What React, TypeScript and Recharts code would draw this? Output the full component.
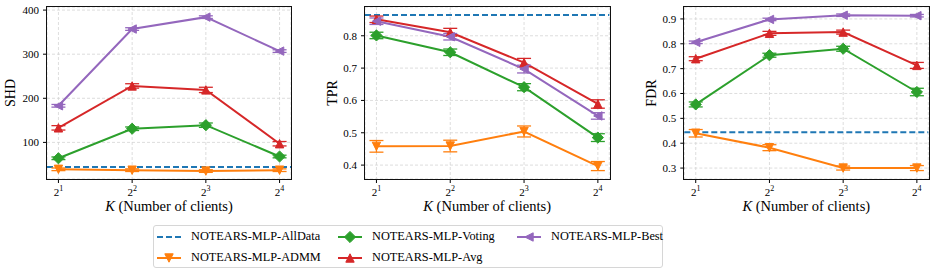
import React from 'react';
import { LineChart, Line, XAxis, YAxis, CartesianGrid, ReferenceLine, ErrorBar } from 'recharts';

const FONT = "'Liberation Serif', 'Times New Roman', serif";

// x positions are log2(K)
const kExponents = [1, 2, 3, 4];

const seriesNames = ['NOTEARS-MLP-AllData', 'NOTEARS-MLP-ADMM', 'NOTEARS-MLP-Voting', 'NOTEARS-MLP-Avg', 'NOTEARS-MLP-Best'];
const seriesKeys = ['allData', 'admm', 'voting', 'avg', 'best'];
const seriesColors = ['#1f77b4', '#ff7f0e', '#2ca02c', '#d62728', '#9467bd'];
const seriesMarkers = ['none', 'v', 'D', '^', '<'];

// SHD
const shdAllData = 44;
const shdAdmm = [39, 37, 35, 37];
const shdAdmmErr = [3, 3, 3, 3];
const shdVoting = [64, 131, 139, 68];
const shdVotingErr = [3, 4, 5, 3];
const shdAvg = [133, 228, 219, 97];
const shdAvgErr = [5, 5, 6, 5];
const shdBest = [183, 357, 384, 307];
const shdBestErr = [3, 3, 3, 3];
const shdTicks = [100, 200, 300, 400];

// TPR
const tprAllData = 0.864;
const tprAdmm = [0.458, 0.459, 0.504, 0.397];
const tprAdmmErr = [0.018, 0.018, 0.017, 0.014];
const tprVoting = [0.801, 0.749, 0.641, 0.485];
const tprVotingErr = [0.01, 0.01, 0.011, 0.012];
const tprAvg = [0.851, 0.811, 0.717, 0.589];
const tprAvgErr = [0.01, 0.012, 0.013, 0.013];
const tprBest = [0.845, 0.797, 0.697, 0.552];
const tprBestErr = [0.01, 0.01, 0.012, 0.01];
const tprTicks = [0.4, 0.5, 0.6, 0.7, 0.8];

// FDR
const fdrAllData = 0.444;
const fdrAdmm = [0.44, 0.382, 0.3, 0.3];
const fdrAdmmErr = [0.015, 0.012, 0.008, 0.01];
const fdrVoting = [0.556, 0.754, 0.78, 0.606];
const fdrVotingErr = [0.01, 0.008, 0.01, 0.015];
const fdrAvg = [0.74, 0.842, 0.847, 0.713];
const fdrAvgErr = [0.008, 0.008, 0.008, 0.012];
const fdrBest = [0.806, 0.898, 0.915, 0.913];
const fdrBestErr = [0.005, 0.005, 0.005, 0.005];
const fdrTicks = [0.3, 0.4, 0.5, 0.6, 0.7, 0.8, 0.9];

const X_DOMAIN: [number, number] = [0.845, 4.155];
const CHART_H = 220;
const M_TOP = 7;
const M_BOTTOM = 11;
const X_AXIS_H = 30;

function buildRows(
  admm: number[], admmErr: number[],
  voting: number[], votingErr: number[],
  avg: number[], avgErr: number[],
  best: number[], bestErr: number[]
) {
  return kExponents.map((k, i) => ({
    k,
    admm: admm[i], admmErr: admmErr[i],
    voting: voting[i], votingErr: votingErr[i],
    avg: avg[i], avgErr: avgErr[i],
    best: best[i], bestErr: bestErr[i],
  }));
}

function markerPath(shape: string, cx: number, cy: number) {
  const t = 4.2;
  const d = 5.6;
  switch (shape) {
    case 'v':
      return `M${cx - t},${cy - t}L${cx + t},${cy - t}L${cx},${cy + t}Z`;
    case '^':
      return `M${cx},${cy - t}L${cx + t},${cy + t}L${cx - t},${cy + t}Z`;
    case 'D':
      return `M${cx},${cy - d}L${cx + d},${cy}L${cx},${cy + d}L${cx - d},${cy}Z`;
    case '<':
      return `M${cx - t},${cy}L${cx + t},${cy - t}L${cx + t},${cy + t}Z`;
    default:
      return '';
  }
}

function makeDot(shape: string, color: string) {
  return (props: any) => {
    const { cx, cy, index } = props;
    if (cx == null || cy == null) return <g key={`d-${index}`} />;
    return (
      <path key={`d-${shape}-${index}`} d={markerPath(shape, cx, cy)} fill={color} stroke={color} strokeWidth={1} />
    );
  };
}

const XTick = (props: any) => {
  const { x, y, payload } = props;
  return (
    <text x={x} y={y + 12.5} textAnchor="middle" style={{ fontFamily: FONT }} fontSize={11} fill="#000">
      <tspan>2</tspan>
      <tspan dy={-5} fontSize={8}>{payload.value}</tspan>
    </text>
  );
};

type PanelProps = {
  yLabel: string;
  rows: any[];
  allData: number;
  domain: [number, number];
  ticks: number[];
  fmt: (v: number) => string;
  left: number;
  width: number;
  plotLeft: number;
  marginRight: number;
  labelGap: number;
};

function Panel(p: PanelProps) {
  const plotRight = p.width - p.marginRight;
  const plotBottom = CHART_H - M_BOTTOM - X_AXIS_H;
  const frameLeft = Math.floor(p.plotLeft) - 1;
  const frameTop = M_TOP - 1;
  const frameRight = Math.ceil(plotRight) + 1;
  const frameBottom = plotBottom + 1;
  return (
    <div style={{ position: 'absolute', left: p.left, top: 0, width: p.width, height: CHART_H }}>
      <LineChart
        width={p.width}
        height={CHART_H}
        data={p.rows}
        margin={{ top: M_TOP, right: p.marginRight, bottom: M_BOTTOM, left: 0 }}
      >
        <CartesianGrid stroke="#d4d4d4" strokeDasharray="3 2" strokeWidth={0.8} />
        <XAxis
          dataKey="k"
          type="number"
          domain={X_DOMAIN}
          ticks={kExponents}
          allowDataOverflow
          height={X_AXIS_H}
          tickSize={4}
          tickMargin={0}
          axisLine={false}
          tickLine={{ stroke: '#000' }}
          tick={<XTick />}
          label={{
            content: (lp: any) => {
              const vb = lp.viewBox;
              return (
                <text x={vb.x + vb.width / 2} y={vb.y + 32} textAnchor="middle" style={{ fontFamily: FONT }} fontSize={14.5} fill="#000">
                  <tspan fontStyle="italic">K</tspan>
                  <tspan> (Number of clients)</tspan>
                </text>
              );
            },
          }}
        />
        <YAxis
          type="number"
          domain={p.domain}
          ticks={p.ticks}
          allowDataOverflow
          width={p.plotLeft}
          tickSize={4}
          tickMargin={4}
          axisLine={false}
          tickLine={{ stroke: '#000' }}
          tick={{ style: { fontFamily: FONT }, fontSize: 11, fill: '#000' }}
          tickFormatter={p.fmt}
          label={{
            content: (lp: any) => {
              const vb = lp.viewBox;
              const x = vb.x + vb.width - p.labelGap;
              const y = vb.y + vb.height / 2;
              return (
                <text x={x} y={y} transform={`rotate(-90, ${x}, ${y})`} textAnchor="middle" style={{ fontFamily: FONT }} fontSize={14} fill="#000">
                  {p.yLabel}
                </text>
              );
            },
          }}
        />
        <ReferenceLine y={p.allData} stroke={seriesColors[0]} strokeWidth={2} strokeDasharray="6 3" />
        {seriesKeys.slice(1).map((key, j) => {
          const i = j + 1;
          return (
            <Line
              key={key}
              dataKey={key}
              stroke={seriesColors[i]}
              strokeWidth={2}
              dot={makeDot(seriesMarkers[i], seriesColors[i])}
              activeDot={false}
              isAnimationActive={false}
            >
              <ErrorBar dataKey={`${key}Err`} direction="y" width={7} stroke={seriesColors[i]} strokeWidth={1.3} />
            </Line>
          );
        })}
      </LineChart>
      {/* axes frame (spines) */}
      <div
        style={{
          position: 'absolute',
          left: frameLeft,
          top: frameTop,
          width: frameRight - frameLeft,
          height: frameBottom - frameTop,
          border: '1px solid #111',
          boxSizing: 'border-box',
          pointerEvents: 'none',
        }}
      />
    </div>
  );
}

function LegendIcon({ i }: { i: number }) {
  const color = seriesColors[i];
  return (
    <svg width={24} height={14} style={{ display: 'block' }}>
      {i === 0 ? (
        <line x1={0} y1={7} x2={24} y2={7} stroke={color} strokeWidth={2} strokeDasharray="6 3" />
      ) : (
        <>
          <line x1={0} y1={7} x2={24} y2={7} stroke={color} strokeWidth={2} />
          <path d={markerPath(seriesMarkers[i], 12, 7)} fill={color} stroke={color} strokeWidth={1} />
        </>
      )}
    </svg>
  );
}

function Legend() {
  // column-major order like matplotlib ncol=3
  const order = [0, 2, 4, 1, 3];
  return (
    <div
      style={{
        position: 'absolute',
        left: 153,
        top: 225,
        width: 510,
        height: 43,
        border: '1px solid #d6d6d6',
        borderRadius: 3,
        boxSizing: 'border-box',
        display: 'grid',
        gridTemplateColumns: '181px 179px auto',
        gridAutoRows: '20.7px',
        paddingTop: 0.5,
        paddingLeft: 3,
        fontFamily: FONT,
        fontSize: 12.3,
      }}
    >
      {order.map((i) => (
        <div key={seriesNames[i]} style={{ display: 'flex', alignItems: 'center', whiteSpace: 'nowrap' }}>
          <LegendIcon i={i} />
          <span style={{ marginLeft: 10 }}>{seriesNames[i]}</span>
        </div>
      ))}
    </div>
  );
}

export default function App() {
  const shdRows = buildRows(shdAdmm, shdAdmmErr, shdVoting, shdVotingErr, shdAvg, shdAvgErr, shdBest, shdBestErr);
  const tprRows = buildRows(tprAdmm, tprAdmmErr, tprVoting, tprVotingErr, tprAvg, tprAvgErr, tprBest, tprBestErr);
  const fdrRows = buildRows(fdrAdmm, fdrAdmmErr, fdrVoting, fdrVotingErr, fdrAvg, fdrAvgErr, fdrBest, fdrBestErr);
  return (
    <div style={{ position: 'absolute', left: 0, top: 0, width: 934, height: 277, background: '#fff', overflow: 'hidden' }}>
      <Panel yLabel="SHD" rows={shdRows} allData={shdAllData} domain={[17, 407]} ticks={shdTicks}
        fmt={(v) => String(v)} left={0} width={311} plotLeft={47} marginRight={20} labelGap={32} />
      <Panel yLabel="TPR" rows={tprRows} allData={tprAllData} domain={[0.357, 0.889]} ticks={tprTicks}
        fmt={(v) => v.toFixed(1)} left={311} width={311} plotLeft={54} marginRight={12.7} labelGap={28} />
      <Panel yLabel="FDR" rows={fdrRows} allData={fdrAllData} domain={[0.256, 0.948]} ticks={fdrTicks}
        fmt={(v) => v.toFixed(1)} left={622} width={312} plotLeft={62.3} marginRight={5.7} labelGap={28} />
      <Legend />
    </div>
  );
}
